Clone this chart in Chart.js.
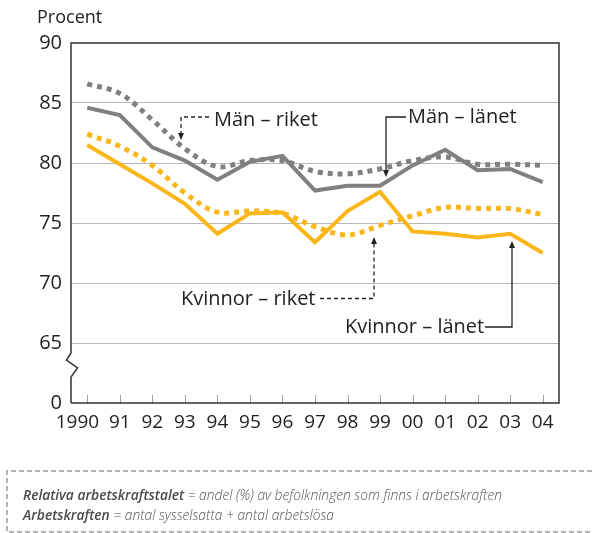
<!DOCTYPE html>
<html>
<head>
<meta charset="utf-8">
<script src="https://cdn.jsdelivr.net/npm/chart.js@4"></script>
<style>
  html, body { margin: 0; padding: 0; background: #fff; }
  canvas { display: block; }
</style>
</head>
<body>
<canvas id="chart" width="592" height="533"></canvas>
<script>
const years = ['1990', '91', '92', '93', '94', '95', '96', '97', '98', '99', '00', '01', '02', '03', '04']
const manLanet = [84.6, 84.0, 81.3, 80.2, 78.6, 80.1, 80.6, 77.7, 78.1, 78.1, 79.8, 81.1, 79.4, 79.5, 78.4]
const manRiket = [86.6, 85.8, 83.6, 81.2, 79.7, 80.2, 80.2, 79.3, 79.1, 79.5, 80.2, 80.5, 79.9, 79.9, 79.8]
const kvinnorLanet = [81.5, 79.9, 78.3, 76.6, 74.1, 75.8, 75.9, 73.4, 76.0, 77.6, 74.3, 74.1, 73.8, 74.1, 72.5]
const kvinnorRiket = [82.4, 81.4, 79.8, 77.5, 75.9, 76.0, 75.8, 74.7, 74.0, 74.8, 75.6, 76.3, 76.2, 76.2, 75.7]
const yTicks = [60, 65, 70, 75, 80, 85, 90] // 60 is shown as "0" (broken axis)

const GRAY = '#808080'
const YELLOW = '#fbb61a'
const INK = '#222'
const FONT = '"Open Sans", "Noto Sans", sans-serif'

function arrow(ctx, x, y, dir) {
  // small filled arrowhead, tip at (x, y); dir 1 = pointing down, -1 = up
  ctx.beginPath()
  ctx.moveTo(x, y)
  ctx.lineTo(x - 3, y - dir * 7)
  ctx.lineTo(x + 3, y - dir * 7)
  ctx.closePath()
  ctx.fill()
}

const decor = {
  id: 'decor',
  afterDatasetsDraw(chart) {
    const { ctx, chartArea: a, scales } = chart
    ctx.save()

    // inner tick marks on x axis
    ctx.strokeStyle = '#a0a0a0'
    ctx.lineWidth = 1
    years.forEach((_, i) => {
      const px = Math.round(scales.x.getPixelForValue(i)) + 0.5
      ctx.beginPath()
      ctx.moveTo(px, a.bottom)
      ctx.lineTo(px, a.bottom - 8)
      ctx.stroke()
    })

    // frame with broken left axis
    ctx.strokeStyle = '#333'
    ctx.lineWidth = 1.5
    ctx.beginPath()
    ctx.moveTo(a.left, a.bottom)
    ctx.lineTo(a.right, a.bottom)
    ctx.lineTo(a.right, a.top)
    ctx.lineTo(a.left, a.top)
    ctx.lineTo(a.left, 353)
    ctx.lineTo(a.left - 4.5, 360)
    ctx.lineTo(a.left + 6.5, 368)
    ctx.lineTo(a.left, 377)
    ctx.lineTo(a.left, a.bottom)
    ctx.stroke()
    ctx.restore()
  },
  afterDraw(chart) {
    const { ctx } = chart
    ctx.save()
    ctx.fillStyle = INK
    ctx.strokeStyle = INK
    ctx.lineWidth = 1.3

    // Procent
    ctx.font = '18px ' + FONT
    ctx.textBaseline = 'alphabetic'
    ctx.textAlign = 'left'
    ctx.fillText('Procent', 37, 23)

    ctx.font = '20px ' + FONT

    // Män – riket (dashed leader)
    ctx.setLineDash([4, 3])
    ctx.beginPath()
    ctx.moveTo(209, 117)
    ctx.lineTo(181, 117)
    ctx.lineTo(181, 134)
    ctx.stroke()
    ctx.setLineDash([])
    arrow(ctx, 181, 140, 1)
    ctx.fillText('Män – riket', 214, 126)

    // Män – länet (solid leader)
    ctx.beginPath()
    ctx.moveTo(406, 117)
    ctx.lineTo(386, 117)
    ctx.lineTo(386, 171)
    ctx.stroke()
    arrow(ctx, 386, 177, 1)
    ctx.fillText('Män – länet', 408, 123)

    // Kvinnor – riket (dashed leader)
    ctx.fillText('Kvinnor – riket', 181, 305)
    ctx.setLineDash([4, 3])
    ctx.beginPath()
    ctx.moveTo(320, 298.5)
    ctx.lineTo(374, 298.5)
    ctx.lineTo(374, 243)
    ctx.stroke()
    ctx.setLineDash([])
    arrow(ctx, 374, 237, -1)

    // Kvinnor – länet (solid leader)
    ctx.fillText('Kvinnor – länet', 345, 333)
    ctx.beginPath()
    ctx.moveTo(485, 327)
    ctx.lineTo(512, 327)
    ctx.lineTo(512, 248)
    ctx.stroke()
    arrow(ctx, 512, 241, -1)

    // footer box
    ctx.strokeStyle = '#9a9a9a'
    ctx.lineWidth = 1.5
    ctx.setLineDash([5, 3])
    ctx.beginPath()
    ctx.moveTo(640, 471)
    ctx.lineTo(7, 471)
    ctx.lineTo(7, 532)
    ctx.lineTo(640, 532)
    ctx.stroke()
    ctx.setLineDash([])

    const lines = [
      ['Relativa arbetskraftstalet', ' = andel (%) av befolkningen som finns i arbetskraften', 500],
      ['Arbetskraften', ' = antal sysselsatta + antal arbetslösa', 520],
    ]
    lines.forEach(([bold, rest, yb]) => {
      ctx.font = 'italic 600 13.8px ' + FONT
      ctx.fillStyle = '#4a4a4a'
      ctx.fillText(bold, 23, yb)
      const w = ctx.measureText(bold).width
      ctx.font = 'italic 300 13.8px ' + FONT
      ctx.fillStyle = '#555'
      ctx.fillText(rest, 23 + w, yb)
    })
    ctx.restore()
  },
}

const ctx = document.getElementById('chart').getContext('2d')
new Chart(ctx, {
  type: 'line',
  data: {
    labels: years,
    datasets: [
      {
        label: 'Kvinnor – riket',
        data: kvinnorRiket,
        borderColor: YELLOW,
        borderWidth: 5,
        borderDash: [5, 5],
        tension: 0.35,
      },
      {
        label: 'Kvinnor – länet',
        data: kvinnorLanet,
        borderColor: YELLOW,
        borderWidth: 4,
        tension: 0,
      },
      {
        label: 'Män – riket',
        data: manRiket,
        borderColor: GRAY,
        borderWidth: 5,
        borderDash: [5, 5],
        tension: 0.35,
      },
      {
        label: 'Män – länet',
        data: manLanet,
        borderColor: GRAY,
        borderWidth: 4,
        tension: 0,
      },
    ],
  },
  options: {
    responsive: false,
    animation: false,
    layout: { padding: { top: 43, right: 33, left: 0, bottom: 0 } },
    elements: {
      point: { radius: 0 },
      line: { borderJoinStyle: 'miter', borderCapStyle: 'butt', fill: false },
    },
    plugins: {
      legend: { display: false },
      tooltip: { enabled: false },
    },
    scales: {
      x: {
        offset: true,
        grid: { display: false, drawTicks: false },
        border: { display: false },
        ticks: {
          color: INK,
          padding: 8,
          maxRotation: 0,
          autoSkip: false,
          font: { family: FONT, size: 19 },
          // first label nudged left so it clears "91", as in the original
          callback: (v, i) => (i === 0 ? years[0] + '    ' : years[i]),
        },
        afterFit(scale) { scale.height = 130 },
      },
      y: {
        min: 60,
        max: 90,
        afterBuildTicks(scale) { scale.ticks = yTicks.map(v => ({ value: v })) },
        grid: {
          drawTicks: false,
          color: c => (c.tick && c.tick.value > 60 && c.tick.value < 90 ? '#b8b8b8' : 'rgba(0,0,0,0)'),
          lineWidth: 1,
        },
        border: { display: false },
        ticks: {
          color: INK,
          padding: 9,
          font: { family: FONT, size: 20 },
          callback: v => (v === 60 ? '0' : String(v)),
        },
        afterFit(scale) { scale.width = 71 },
      },
    },
  },
  plugins: [decor],
})
</script>
</body>
</html>
